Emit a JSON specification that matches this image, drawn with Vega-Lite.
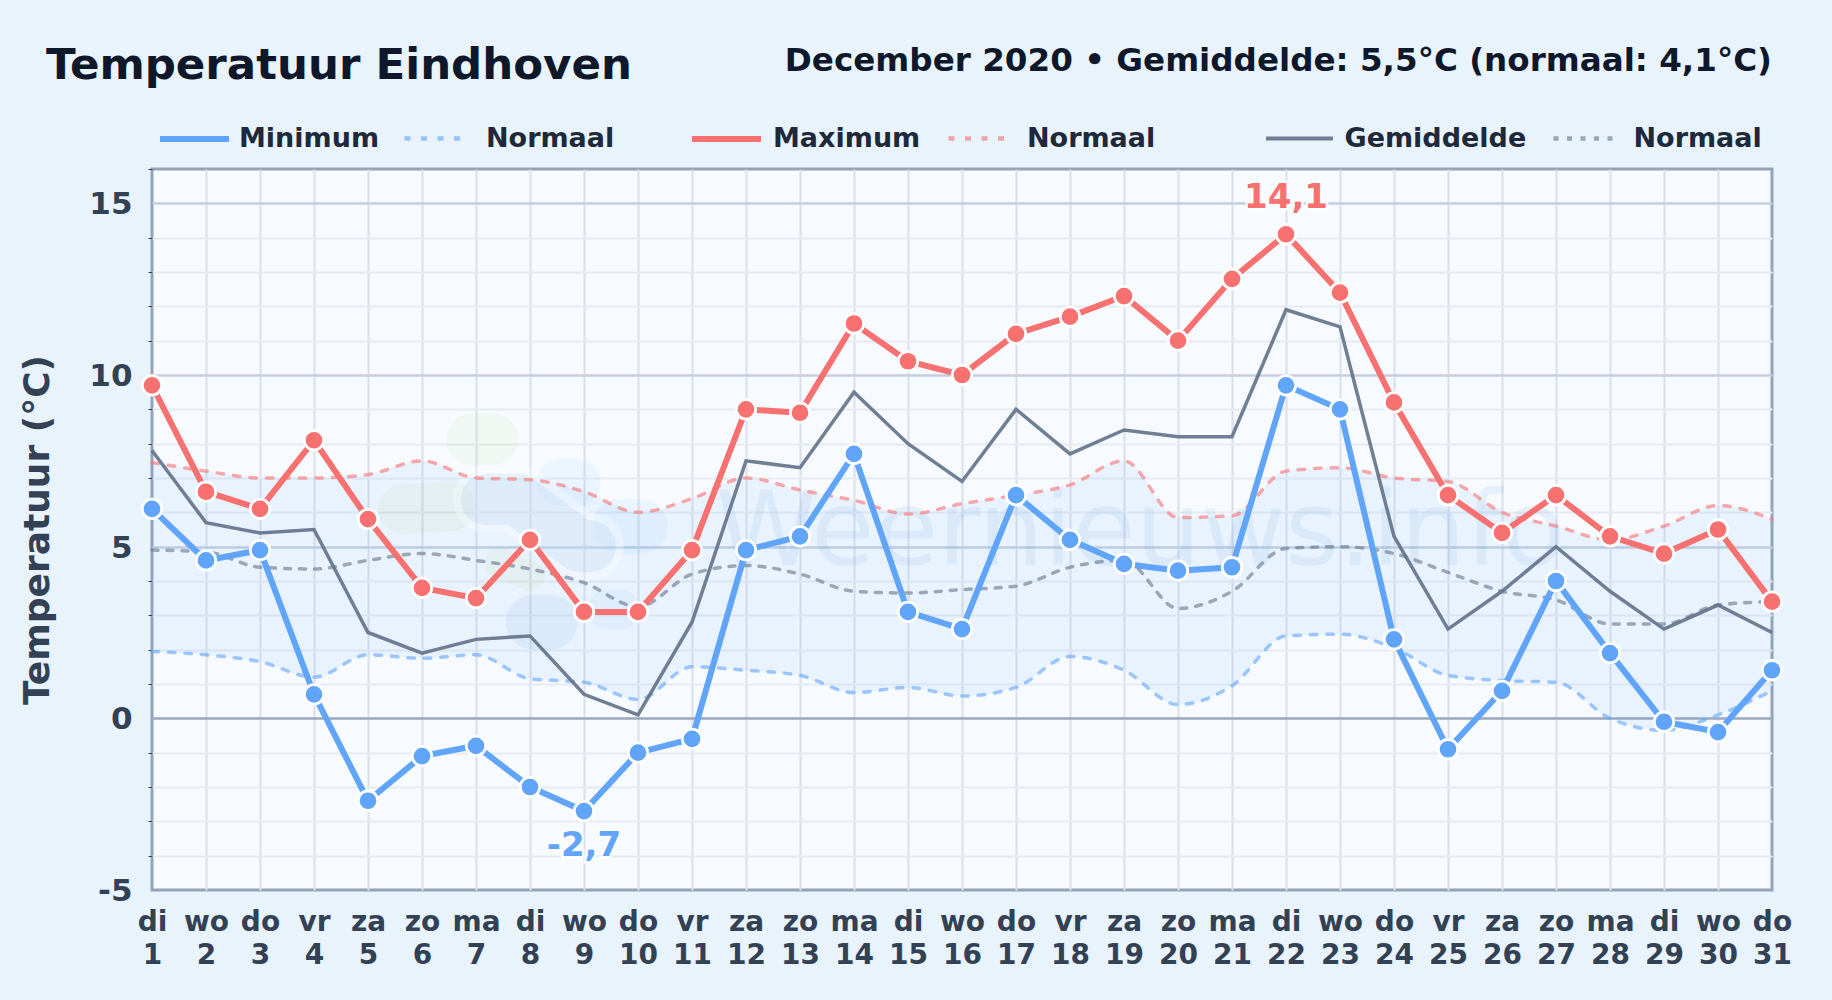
{"$schema":"https://vega.github.io/schema/vega-lite/v6.json","width":1620,"height":721,"autosize":{"type":"none"},"padding":{"left":152,"top":169,"right":60,"bottom":110},"background":"#e8f3fc","view":{"fill":"#f7fbff","stroke":"#94a3b8","strokeWidth":3},"title":{"text":"Temperatuur Eindhoven","anchor":"start","frame":"group","dx":-106,"offset":-77,"baseline":"alphabetic","font":"DejaVu Sans","fontWeight":"bold","fontSize":43.5,"color":"#0f172a"},"config":{"font":"DejaVu Sans","legend":{"orient":"none","title":null,"padding":0,"symbolType":"stroke","labelFont":"DejaVu Sans","labelFontWeight":"bold","labelFontSize":27,"labelLimit":400,"labelColor":"#1e293b","labelOffset":7,"symbolStrokeWidth":6,"encode":{"symbols":{"update":{"strokeCap":{"value":"round"}}}}}},"datasets":{"dagen":[{"dag":1,"min":6.1,"max":9.7,"gem":7.8,"nmin":1.95,"nmax":7.45,"ngem":4.9},{"dag":2,"min":4.6,"max":6.6,"gem":5.7,"nmin":1.85,"nmax":7.2,"ngem":4.85},{"dag":3,"min":4.9,"max":6.1,"gem":5.4,"nmin":1.65,"nmax":7.0,"ngem":4.4},{"dag":4,"min":0.7,"max":8.1,"gem":5.5,"nmin":1.2,"nmax":7.0,"ngem":4.35},{"dag":5,"min":-2.4,"max":5.8,"gem":2.5,"nmin":1.85,"nmax":7.1,"ngem":4.6},{"dag":6,"min":-1.1,"max":3.8,"gem":1.9,"nmin":1.75,"nmax":7.5,"ngem":4.8},{"dag":7,"min":-0.8,"max":3.5,"gem":2.3,"nmin":1.85,"nmax":7.0,"ngem":4.6},{"dag":8,"min":-2.0,"max":5.2,"gem":2.4,"nmin":1.15,"nmax":6.95,"ngem":4.35},{"dag":9,"min":-2.7,"max":3.1,"gem":0.7,"nmin":1.05,"nmax":6.6,"ngem":3.95},{"dag":10,"min":-1.0,"max":3.1,"gem":0.1,"nmin":0.55,"nmax":6.0,"ngem":3.25},{"dag":11,"min":-0.6,"max":4.9,"gem":2.8,"nmin":1.5,"nmax":6.4,"ngem":4.2},{"dag":12,"min":4.9,"max":9.0,"gem":7.5,"nmin":1.4,"nmax":7.0,"ngem":4.45},{"dag":13,"min":5.3,"max":8.9,"gem":7.3,"nmin":1.25,"nmax":6.65,"ngem":4.2},{"dag":14,"min":7.7,"max":11.5,"gem":9.5,"nmin":0.75,"nmax":6.35,"ngem":3.7},{"dag":15,"min":3.1,"max":10.4,"gem":8.0,"nmin":0.9,"nmax":5.95,"ngem":3.65},{"dag":16,"min":2.6,"max":10.0,"gem":6.9,"nmin":0.65,"nmax":6.25,"ngem":3.75},{"dag":17,"min":6.5,"max":11.2,"gem":9.0,"nmin":0.9,"nmax":6.5,"ngem":3.85},{"dag":18,"min":5.2,"max":11.7,"gem":7.7,"nmin":1.8,"nmax":6.8,"ngem":4.4},{"dag":19,"min":4.5,"max":12.3,"gem":8.4,"nmin":1.4,"nmax":7.5,"ngem":4.6},{"dag":20,"min":4.3,"max":11.0,"gem":8.2,"nmin":0.4,"nmax":5.85,"ngem":3.2},{"dag":21,"min":4.4,"max":12.8,"gem":8.2,"nmin":0.95,"nmax":5.9,"ngem":3.7},{"dag":22,"min":9.7,"max":14.1,"gem":11.9,"nmin":2.4,"nmax":7.2,"ngem":4.95},{"dag":23,"min":9.0,"max":12.4,"gem":11.4,"nmin":2.45,"nmax":7.3,"ngem":5.0},{"dag":24,"min":2.3,"max":9.2,"gem":5.3,"nmin":2.05,"nmax":7.0,"ngem":4.8},{"dag":25,"min":-0.9,"max":6.5,"gem":2.6,"nmin":1.25,"nmax":6.9,"ngem":4.25},{"dag":26,"min":0.8,"max":5.4,"gem":3.7,"nmin":1.1,"nmax":6.0,"ngem":3.7},{"dag":27,"min":4.0,"max":6.5,"gem":5.0,"nmin":1.05,"nmax":5.6,"ngem":3.45},{"dag":28,"min":1.9,"max":5.3,"gem":3.7,"nmin":0.0,"nmax":5.2,"ngem":2.75},{"dag":29,"min":-0.1,"max":4.8,"gem":2.6,"nmin":-0.35,"nmax":5.6,"ngem":2.75},{"dag":30,"min":-0.4,"max":5.5,"gem":3.3,"nmin":0.1,"nmax":6.2,"ngem":3.3},{"dag":31,"min":1.4,"max":3.4,"gem":2.5,"nmin":0.8,"nmax":5.8,"ngem":3.4}],"logo":[{"vorm":"zon","dag":6.94,"temp":8.13},{"vorm":"zon","dag":7.3,"temp":8.13},{"vorm":"groen","dag":5.65,"temp":6.09},{"vorm":"groen","dag":6.52,"temp":6.18},{"vorm":"groen2","dag":7.44,"temp":4.54},{"vorm":"groen2","dag":8.0,"temp":4.14},{"vorm":"wolk","dag":7.2,"temp":6.38},{"vorm":"wolk","dag":7.76,"temp":6.38},{"vorm":"wolk","dag":8.93,"temp":5.01},{"vorm":"wolk","dag":9.11,"temp":5.01},{"vorm":"wolk2","dag":8.06,"temp":2.8},{"vorm":"wolk2","dag":8.37,"temp":2.8},{"vorm":"licht1","dag":8.56,"temp":6.87},{"vorm":"licht1","dag":8.87,"temp":6.87},{"vorm":"licht2","dag":9.67,"temp":5.59},{"vorm":"licht2","dag":10.04,"temp":5.59},{"vorm":"licht3","dag":9.43,"temp":3.17},{"vorm":"licht3","dag":9.67,"temp":3.17}]},"data":{"name":"dagen"},"encoding":{"x":{"field":"dag","type":"quantitative","scale":{"domain":[1,31],"nice":false,"zero":false},"axis":{"title":null,"values":[1,2,3,4,5,6,7,8,9,10,11,12,13,14,15,16,17,18,19,20,21,22,23,24,25,26,27,28,29,30,31],"tickCount":31,"grid":true,"gridColor":{"condition":{"test":"datum.value===1||datum.value===31","value":"transparent"},"value":"#d9e0eb"},"gridWidth":2,"domain":false,"ticks":false,"labelFont":"DejaVu Sans","labelFontWeight":"bold","labelFontSize":28,"labelColor":"#334155","labelPadding":18,"labelLineHeight":33,"labelOverlap":false,"labelBound":false,"labelFlush":false,"labelExpr":"[['di','wo','do','vr','za','zo','ma'][(datum.value-1)%7], ''+datum.value]"}}},"layer":[{"mark":{"type":"area","interpolate":"monotone","color":"#60a5fa","opacity":0.09},"encoding":{"y":{"field":"nmax","type":"quantitative","scale":{"domain":[-5,16],"nice":false,"zero":false},"axis":{"title":"Temperatuur (°C)","titleFont":"DejaVu Sans","titleFontWeight":"bold","titleFontSize":36,"titleColor":"#334155","titlePadding":32,"values":[-5,-4,-3,-2,-1,0,1,2,3,4,5,6,7,8,9,10,11,12,13,14,15,16],"tickCount":22,"grid":true,"gridColor":{"condition":[{"test":"datum.value===16||datum.value===-5","value":"transparent"},{"test":"datum.value===0","value":"#9aa9bd"},{"test":"datum.value%5===0","value":"#c3cfe0"}],"value":"#e6ebf3"},"gridWidth":{"condition":{"test":"datum.value%5===0","value":2.5},"value":2},"domain":false,"tickSize":4,"tickColor":{"condition":{"test":"datum.value%5===0","value":"transparent"},"value":"#334155"},"labelFont":"DejaVu Sans","labelFontWeight":"bold","labelFontSize":31,"labelColor":"#334155","labelPadding":16,"labelOffset":1.5,"labelExpr":"datum.value%5===0?''+datum.value:''","labelOverlap":false,"labelBound":false,"labelFlush":false}},"y2":{"field":"nmin"}}},{"data":{"name":"logo"},"transform":[{"filter":"datum.vorm==='zon'"}],"mark":{"type":"line","color":"#a3c95a","opacity":0.07,"strokeWidth":52,"strokeCap":"round","strokeJoin":"round"},"encoding":{"x":{"field":"dag","type":"quantitative"},"y":{"field":"temp","type":"quantitative"}}},{"data":{"name":"logo"},"transform":[{"filter":"datum.vorm==='groen'"}],"mark":{"type":"line","color":"#a3c95a","opacity":0.09,"strokeWidth":50,"strokeCap":"round","strokeJoin":"round"},"encoding":{"x":{"field":"dag","type":"quantitative"},"y":{"field":"temp","type":"quantitative"}}},{"data":{"name":"logo"},"transform":[{"filter":"datum.vorm==='groen2'"}],"mark":{"type":"line","color":"#a3c95a","opacity":0.09,"strokeWidth":30,"strokeCap":"round","strokeJoin":"round"},"encoding":{"x":{"field":"dag","type":"quantitative"},"y":{"field":"temp","type":"quantitative"}}},{"data":{"name":"logo"},"transform":[{"filter":"datum.vorm==='licht1'"}],"mark":{"type":"line","color":"#60b5fa","opacity":0.08,"strokeWidth":47,"strokeCap":"round"},"encoding":{"x":{"field":"dag","type":"quantitative"},"y":{"field":"temp","type":"quantitative"}}},{"data":{"name":"logo"},"transform":[{"filter":"datum.vorm==='licht2'"}],"mark":{"type":"line","color":"#60b5fa","opacity":0.08,"strokeWidth":55,"strokeCap":"round"},"encoding":{"x":{"field":"dag","type":"quantitative"},"y":{"field":"temp","type":"quantitative"}}},{"data":{"name":"logo"},"transform":[{"filter":"datum.vorm==='licht3'"}],"mark":{"type":"line","color":"#60b5fa","opacity":0.08,"strokeWidth":40,"strokeCap":"round"},"encoding":{"x":{"field":"dag","type":"quantitative"},"y":{"field":"temp","type":"quantitative"}}},{"data":{"name":"logo"},"transform":[{"filter":"datum.vorm==='wolk'"}],"mark":{"type":"line","color":"#ffffff","opacity":0.3,"strokeWidth":68,"strokeCap":"round","strokeJoin":"round"},"encoding":{"x":{"field":"dag","type":"quantitative"},"y":{"field":"temp","type":"quantitative"}}},{"data":{"name":"logo"},"transform":[{"filter":"datum.vorm==='wolk'"}],"mark":{"type":"line","color":"#3b82c6","opacity":0.09,"strokeWidth":52,"strokeCap":"round","strokeJoin":"round"},"encoding":{"x":{"field":"dag","type":"quantitative"},"y":{"field":"temp","type":"quantitative"}}},{"data":{"name":"logo"},"transform":[{"filter":"datum.vorm==='wolk2'"}],"mark":{"type":"line","color":"#3b82c6","opacity":0.08,"strokeWidth":55,"strokeCap":"round"},"encoding":{"x":{"field":"dag","type":"quantitative"},"y":{"field":"temp","type":"quantitative"}}},{"data":{"values":[{"dag":19.3,"temp":4.48,"tekst":"Weernieuws.info"}]},"mark":{"type":"text","font":"DejaVu Sans","fontSize":103,"align":"center","baseline":"alphabetic","color":"#5a9ad8","opacity":0.1},"encoding":{"x":{"field":"dag","type":"quantitative"},"y":{"field":"temp","type":"quantitative"},"text":{"field":"tekst"}}},{"data":{"values":[{"dag":31,"temp":18.85,"tekst":"December 2020 • Gemiddelde: 5,5°C (normaal: 4,1°C)"}]},"mark":{"type":"text","font":"DejaVu Sans","fontWeight":"bold","fontSize":32.6,"align":"right","baseline":"alphabetic","color":"#0f172a"},"encoding":{"x":{"field":"dag","type":"quantitative"},"y":{"field":"temp","type":"quantitative"},"text":{"field":"tekst"}}},{"mark":{"type":"line","interpolate":"monotone","strokeWidth":3.5,"strokeCap":"round","strokeDash":[6.5,10],"opacity":0.6},"encoding":{"y":{"field":"nmin","type":"quantitative"},"stroke":{"datum":"Normaal","scale":{"domain":["Normaal"],"range":["#60a5fa"]},"legend":{"legendX":250,"legendY":-62,"symbolSize":3364,"symbolDash":[6,10.5],"symbolOpacity":0.6,"symbolStrokeWidth":4.5,"labelOffset":21}}}},{"mark":{"type":"line","interpolate":"monotone","strokeWidth":3.5,"strokeCap":"round","strokeDash":[6.5,10],"opacity":0.6},"encoding":{"y":{"field":"nmax","type":"quantitative"},"stroke":{"datum":"Normaal","scale":{"domain":["Normaal"],"range":["#f87171"]},"legend":{"legendX":794,"legendY":-62,"symbolSize":3364,"symbolDash":[6,10.5],"symbolOpacity":0.6,"symbolStrokeWidth":4.5,"labelOffset":18}}}},{"mark":{"type":"line","interpolate":"monotone","strokeWidth":3.5,"strokeCap":"round","strokeDash":[6,9],"opacity":0.6},"encoding":{"y":{"field":"ngem","type":"quantitative"},"stroke":{"datum":"Normaal","scale":{"domain":["Normaal"],"range":["#64748b"]},"legend":{"legendX":1399,"legendY":-65.5,"symbolSize":4225,"symbolDash":[5,8.5],"symbolOpacity":0.6,"symbolStrokeWidth":4.5,"labelOffset":12.5}}}},{"mark":{"type":"line","strokeWidth":3.5,"strokeJoin":"miter","opacity":0.92},"encoding":{"y":{"field":"gem","type":"quantitative"},"stroke":{"datum":"Gemiddelde","scale":{"domain":["Gemiddelde"],"range":["#64748b"]},"legend":{"legendX":1112,"legendY":-66,"symbolSize":4489,"symbolStrokeWidth":4,"labelOffset":9.5}}}},{"mark":{"type":"line","strokeWidth":6},"encoding":{"y":{"field":"min","type":"quantitative"},"stroke":{"datum":"Minimum","scale":{"domain":["Minimum"],"range":["#60a5fa"]},"legend":{"legendX":5,"legendY":-67.5,"symbolSize":4761}}}},{"mark":{"type":"point","filled":true,"color":"#60a5fa","stroke":"#ffffff","strokeWidth":2.8,"opacity":1,"size":380},"encoding":{"y":{"field":"min","type":"quantitative"}}},{"mark":{"type":"line","strokeWidth":6},"encoding":{"y":{"field":"max","type":"quantitative"},"stroke":{"datum":"Maximum","scale":{"domain":["Maximum"],"range":["#f87171"]},"legend":{"legendX":537,"legendY":-67.5,"symbolSize":4761,"labelOffset":9}}}},{"mark":{"type":"point","filled":true,"color":"#f87171","stroke":"#ffffff","strokeWidth":2.8,"opacity":1,"size":380},"encoding":{"y":{"field":"max","type":"quantitative"}}},{"data":{"values":[{"dag":22,"temp":14.1,"tekst":"14,1"}]},"mark":{"type":"text","font":"DejaVu Sans","fontWeight":"bold","fontSize":34,"baseline":"middle","dy":-36,"color":"#f87171","stroke":"#ffffff","strokeWidth":5,"strokeOpacity":0.8},"encoding":{"y":{"field":"temp","type":"quantitative"},"text":{"field":"tekst"}}},{"data":{"values":[{"dag":22,"temp":14.1,"tekst":"14,1"}]},"mark":{"type":"text","font":"DejaVu Sans","fontWeight":"bold","fontSize":34,"baseline":"middle","dy":-36,"color":"#f87171"},"encoding":{"y":{"field":"temp","type":"quantitative"},"text":{"field":"tekst"}}},{"data":{"values":[{"dag":9,"temp":-2.7,"tekst":"-2,7"}]},"mark":{"type":"text","font":"DejaVu Sans","fontWeight":"bold","fontSize":34,"baseline":"middle","dy":35,"color":"#60a5fa","stroke":"#ffffff","strokeWidth":5,"strokeOpacity":0.8},"encoding":{"y":{"field":"temp","type":"quantitative"},"text":{"field":"tekst"}}},{"data":{"values":[{"dag":9,"temp":-2.7,"tekst":"-2,7"}]},"mark":{"type":"text","font":"DejaVu Sans","fontWeight":"bold","fontSize":34,"baseline":"middle","dy":35,"color":"#60a5fa"},"encoding":{"y":{"field":"temp","type":"quantitative"},"text":{"field":"tekst"}}}],"resolve":{"scale":{"stroke":"independent"},"legend":{"stroke":"independent"}}}
